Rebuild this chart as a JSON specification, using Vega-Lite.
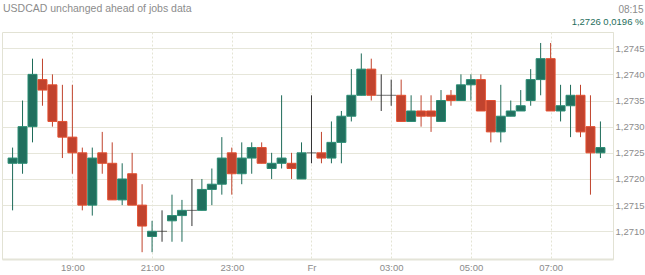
{
  "$schema": "https://vega.github.io/schema/vega-lite/v6.json",
  "width": 611,
  "height": 227,
  "autosize": {"type": "none"},
  "padding": {"left": 2, "top": 32, "right": 32, "bottom": 16},
  "background": "#ffffff",
  "title": {
    "text": "USDCAD unchanged ahead of jobs data",
    "anchor": "start",
    "frame": "group",
    "orient": "top",
    "offset": -5,
    "dx": 1,
    "dy": 10,
    "baseline": "middle",
    "font": "Liberation Sans",
    "fontSize": 10.5,
    "fontWeight": "normal",
    "color": "#8c8c8c"
  },
  "data": {
    "values": [
      {"t": 17.5, "open": 1.2723, "high": 1.2726, "low": 1.2714, "close": 1.2724},
      {"t": 17.75, "open": 1.2723, "high": 1.2735, "low": 1.2721, "close": 1.2730},
      {"t": 18.0, "open": 1.2730, "high": 1.2743, "low": 1.2727, "close": 1.2740},
      {"t": 18.25, "open": 1.2739, "high": 1.2743, "low": 1.2734, "close": 1.2737},
      {"t": 18.5, "open": 1.2738, "high": 1.2740, "low": 1.2730, "close": 1.2731},
      {"t": 18.75, "open": 1.2731, "high": 1.2738, "low": 1.2724, "close": 1.2728},
      {"t": 19.0, "open": 1.2728, "high": 1.2738, "low": 1.2721, "close": 1.2725},
      {"t": 19.25, "open": 1.2725, "high": 1.2726, "low": 1.2714, "close": 1.2715},
      {"t": 19.5, "open": 1.2715, "high": 1.2726, "low": 1.2713, "close": 1.2724},
      {"t": 19.75, "open": 1.2725, "high": 1.2729, "low": 1.2721, "close": 1.2723},
      {"t": 20.0, "open": 1.2723, "high": 1.2727, "low": 1.2716, "close": 1.2716},
      {"t": 20.25, "open": 1.2716, "high": 1.2723, "low": 1.2715, "close": 1.2720},
      {"t": 20.5, "open": 1.2721, "high": 1.2725, "low": 1.2715, "close": 1.2715},
      {"t": 20.75, "open": 1.2715, "high": 1.2719, "low": 1.2706, "close": 1.2711},
      {"t": 21.0, "open": 1.2709, "high": 1.2712, "low": 1.2706, "close": 1.2710},
      {"t": 21.25, "open": 1.2710, "high": 1.2714, "low": 1.2708, "close": 1.2710},
      {"t": 21.5, "open": 1.2712, "high": 1.2717, "low": 1.2708, "close": 1.2713},
      {"t": 21.75, "open": 1.2713, "high": 1.2716, "low": 1.2708, "close": 1.2714},
      {"t": 22.0, "open": 1.2714, "high": 1.2720, "low": 1.2711, "close": 1.2714},
      {"t": 22.25, "open": 1.2714, "high": 1.2720, "low": 1.2714, "close": 1.2718},
      {"t": 22.5, "open": 1.2718, "high": 1.2722, "low": 1.2715, "close": 1.2719},
      {"t": 22.75, "open": 1.2719, "high": 1.2728, "low": 1.2717, "close": 1.2724},
      {"t": 23.0, "open": 1.2725, "high": 1.2726, "low": 1.2717, "close": 1.2721},
      {"t": 23.25, "open": 1.2721, "high": 1.2727, "low": 1.2719, "close": 1.2724},
      {"t": 23.5, "open": 1.2724, "high": 1.2727, "low": 1.2721, "close": 1.2726},
      {"t": 23.75, "open": 1.2726, "high": 1.2727, "low": 1.2723, "close": 1.2723},
      {"t": 24.0, "open": 1.2722, "high": 1.2725, "low": 1.2720, "close": 1.2723},
      {"t": 24.25, "open": 1.2723, "high": 1.2736, "low": 1.2722, "close": 1.2724},
      {"t": 24.5, "open": 1.2723, "high": 1.2725, "low": 1.2720, "close": 1.2722},
      {"t": 24.75, "open": 1.2720, "high": 1.2727, "low": 1.2720, "close": 1.2725},
      {"t": 25.0, "open": 1.2725, "high": 1.2736, "low": 1.2723, "close": 1.2725},
      {"t": 25.25, "open": 1.2725, "high": 1.2729, "low": 1.2723, "close": 1.2724},
      {"t": 25.5, "open": 1.2724, "high": 1.2731, "low": 1.2723, "close": 1.2727},
      {"t": 25.75, "open": 1.2727, "high": 1.2733, "low": 1.2723, "close": 1.2732},
      {"t": 26.0, "open": 1.2732, "high": 1.2741, "low": 1.2731, "close": 1.2736},
      {"t": 26.25, "open": 1.2736, "high": 1.2744, "low": 1.2736, "close": 1.2741},
      {"t": 26.5, "open": 1.2741, "high": 1.2743, "low": 1.2735, "close": 1.2736},
      {"t": 26.75, "open": 1.2736, "high": 1.2740, "low": 1.2733, "close": 1.2736},
      {"t": 27.0, "open": 1.2736, "high": 1.2739, "low": 1.2734, "close": 1.2736},
      {"t": 27.25, "open": 1.2736, "high": 1.2739, "low": 1.2731, "close": 1.2731},
      {"t": 27.5, "open": 1.2731, "high": 1.2736, "low": 1.2731, "close": 1.2733},
      {"t": 27.75, "open": 1.2733, "high": 1.2736, "low": 1.2730, "close": 1.2732},
      {"t": 28.0, "open": 1.2733, "high": 1.2736, "low": 1.2729, "close": 1.2732},
      {"t": 28.25, "open": 1.2731, "high": 1.2737, "low": 1.2731, "close": 1.2735},
      {"t": 28.5, "open": 1.2736, "high": 1.2737, "low": 1.2734, "close": 1.2735},
      {"t": 28.75, "open": 1.2735, "high": 1.2740, "low": 1.2735, "close": 1.2738},
      {"t": 29.0, "open": 1.2738, "high": 1.2740, "low": 1.2735, "close": 1.2739},
      {"t": 29.25, "open": 1.2739, "high": 1.2740, "low": 1.2733, "close": 1.2733},
      {"t": 29.5, "open": 1.2735, "high": 1.2735, "low": 1.2727, "close": 1.2729},
      {"t": 29.75, "open": 1.2729, "high": 1.2738, "low": 1.2727, "close": 1.2732},
      {"t": 30.0, "open": 1.2732, "high": 1.2735, "low": 1.2732, "close": 1.2733},
      {"t": 30.25, "open": 1.2733, "high": 1.2737, "low": 1.2733, "close": 1.2734},
      {"t": 30.5, "open": 1.2735, "high": 1.2741, "low": 1.2734, "close": 1.2739},
      {"t": 30.75, "open": 1.2739, "high": 1.2746, "low": 1.2736, "close": 1.2743},
      {"t": 31.0, "open": 1.2743, "high": 1.2746, "low": 1.2733, "close": 1.2733},
      {"t": 31.25, "open": 1.2733, "high": 1.2738, "low": 1.2731, "close": 1.2734},
      {"t": 31.5, "open": 1.2734, "high": 1.2738, "low": 1.2728, "close": 1.2736},
      {"t": 31.75, "open": 1.2736, "high": 1.2738, "low": 1.2728, "close": 1.2729},
      {"t": 32.0, "open": 1.2730, "high": 1.2736, "low": 1.2717, "close": 1.2725},
      {"t": 32.25, "open": 1.2725, "high": 1.2731, "low": 1.2724, "close": 1.2726}
    ]
  },
  "encoding": {
    "x": {
      "field": "t",
      "type": "quantitative",
      "scale": {"domain": [17.36, 32.44], "nice": false, "zero": false},
      "axis": {
        "orient": "bottom",
        "values": [19, 21, 23, 25, 27, 29, 31],
        "labelExpr": "datum.value == 25 ? 'Fr' : ((datum.value % 24) < 10 ? '0' : '') + (datum.value % 24) + ':00'",
        "ticks": false,
        "labelPadding": 3,
        "labelColor": "#8c8c8c",
        "labelFont": "Liberation Sans",
        "labelFontSize": 9.5,
        "labelOverlap": false,
        "grid": true,
        "gridDash": [2, 2],
        "gridColor": "#e4e4d4",
        "domainColor": "#e4e4d8",
        "domainWidth": 2,
        "title": "08:15",
        "titleX": 641,
        "titleY": -250,
        "titleAlign": "right",
        "titleBaseline": "middle",
        "titleColor": "#8c8c8c",
        "titleFont": "Liberation Sans",
        "titleFontSize": 10,
        "titleFontWeight": "normal"
      }
    }
  },
  "layer": [
    {
      "mark": {"type": "rule", "strokeWidth": 1},
      "encoding": {
        "y": {
          "field": "low",
          "type": "quantitative",
          "scale": {"domain": [1.27047, 1.27481], "nice": false, "zero": false},
          "axis": {
            "orient": "right",
            "values": [1.2710, 1.2715, 1.2720, 1.2725, 1.2730, 1.2735, 1.2740, 1.2745],
            "labelExpr": "replace(format(datum.value, '.4f'), '.', ',')",
            "ticks": false,
            "labelPadding": 2,
            "labelColor": "#8c8c8c",
            "labelFont": "Liberation Sans",
            "labelFontSize": 9.5,
            "labelOverlap": false,
            "grid": true,
            "gridColor": "#e6e6da",
            "domainColor": "#e2e2d4",
            "title": "1,2726 0,0196 %",
            "titleAngle": 0,
            "titleX": 30,
            "titleY": -10.5,
            "titleAlign": "right",
            "titleBaseline": "middle",
            "titleColor": "#1f6e5c",
            "titleFont": "Liberation Sans",
            "titleFontSize": 9.5,
            "titleFontWeight": "normal"
          }
        },
        "y2": {"field": "high"},
        "color": {
          "condition": [
            {"test": "datum.close > datum.open", "value": "#1e6b59"},
            {"test": "datum.close < datum.open", "value": "#c0432c"}
          ],
          "value": "#333333"
        }
      }
    },
    {
      "transform": [{"filter": "datum.close != datum.open"}],
      "mark": {"type": "bar", "size": 9, "strokeWidth": 1},
      "encoding": {
        "y": {
          "field": "open",
          "type": "quantitative",
          "scale": {"domain": [1.27047, 1.27481], "nice": false, "zero": false},
          "axis": {
            "orient": "right",
            "values": [1.2710, 1.2715, 1.2720, 1.2725, 1.2730, 1.2735, 1.2740, 1.2745],
            "labelExpr": "replace(format(datum.value, '.4f'), '.', ',')",
            "ticks": false,
            "labelPadding": 2,
            "labelColor": "#8c8c8c",
            "labelFont": "Liberation Sans",
            "labelFontSize": 9.5,
            "labelOverlap": false,
            "grid": true,
            "gridColor": "#e6e6da",
            "domainColor": "#e2e2d4",
            "title": "1,2726 0,0196 %",
            "titleAngle": 0,
            "titleX": 30,
            "titleY": -10.5,
            "titleAlign": "right",
            "titleBaseline": "middle",
            "titleColor": "#1f6e5c",
            "titleFont": "Liberation Sans",
            "titleFontSize": 9.5,
            "titleFontWeight": "normal"
          }
        },
        "y2": {"field": "close"},
        "fill": {
          "condition": {"test": "datum.close > datum.open", "value": "#216f5e"},
          "value": "#c1432e"
        },
        "stroke": {
          "condition": {"test": "datum.close > datum.open", "value": "#2a8c73"},
          "value": "#e24f30"
        }
      }
    },
    {
      "transform": [{"filter": "datum.close == datum.open"}],
      "mark": {"type": "tick", "orient": "horizontal", "size": 10, "thickness": 1, "color": "#333333"},
      "encoding": {
        "y": {
          "field": "open",
          "type": "quantitative",
          "scale": {"domain": [1.27047, 1.27481], "nice": false, "zero": false},
          "axis": {
            "orient": "right",
            "values": [1.2710, 1.2715, 1.2720, 1.2725, 1.2730, 1.2735, 1.2740, 1.2745],
            "labelExpr": "replace(format(datum.value, '.4f'), '.', ',')",
            "ticks": false,
            "labelPadding": 2,
            "labelColor": "#8c8c8c",
            "labelFont": "Liberation Sans",
            "labelFontSize": 9.5,
            "labelOverlap": false,
            "grid": true,
            "gridColor": "#e6e6da",
            "domainColor": "#e2e2d4",
            "title": "1,2726 0,0196 %",
            "titleAngle": 0,
            "titleX": 30,
            "titleY": -10.5,
            "titleAlign": "right",
            "titleBaseline": "middle",
            "titleColor": "#1f6e5c",
            "titleFont": "Liberation Sans",
            "titleFontSize": 9.5,
            "titleFontWeight": "normal"
          }
        }
      }
    }
  ],
  "config": {
    "view": {"stroke": "#e2e2d4"},
    "axis": {"labelFontWeight": "normal"}
  }
}
